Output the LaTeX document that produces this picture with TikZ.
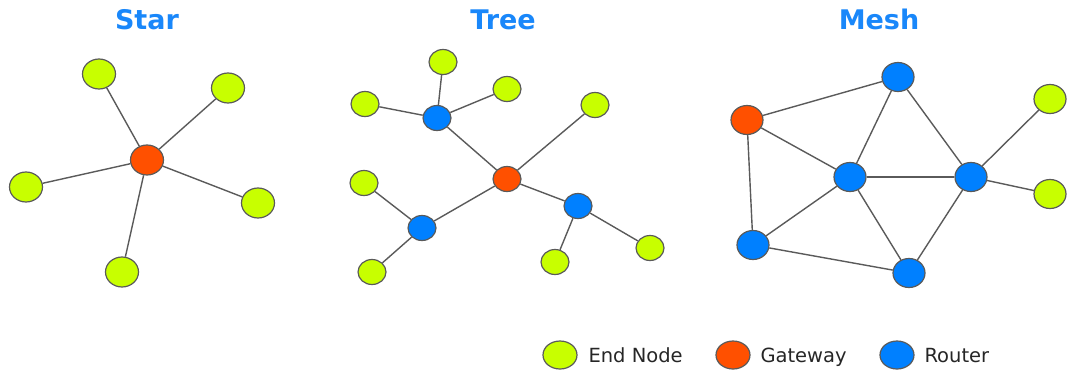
\documentclass[tikz,border=0pt]{standalone}
\usepackage{fontspec}
\setmainfont{DejaVu Sans}
\usetikzlibrary{shapes.geometric}
\definecolor{endc}{RGB}{200,255,0}
\definecolor{gwc}{RGB}{255,80,0}
\definecolor{rtc}{RGB}{0,128,255}
\definecolor{titc}{RGB}{25,135,250}
\definecolor{edgec}{RGB}{90,90,90}
\tikzset{
  dev/.style={ellipse, draw=edgec, line width=1.2pt, inner sep=0pt},
  endn/.style={dev, fill=endc},
  gwn/.style={dev, fill=gwc},
  rtn/.style={dev, fill=rtc},
  bigsz/.style={minimum width=33pt, minimum height=30pt},
  smsz/.style={minimum width=28pt, minimum height=25pt},
  mdsz/.style={minimum width=32pt, minimum height=29pt},
  legsz/.style={minimum width=34pt, minimum height=28pt},
  link/.style={draw=edgec, line width=1.4pt},
  title/.style={font=\bfseries\fontsize{27}{30}\selectfont, text=titc, anchor=base},
  legtxt/.style={font=\fontsize{19.5}{22}\selectfont, text=black!85, anchor=base west}
}
\begin{document}
\begin{tikzpicture}[x=1pt,y=-1pt]
\useasboundingbox (0,0) rectangle (1069,372);
% titles
\node[title] (tstar) at (147,29) {Star};
\node[title] (ttree) at (503,29) {Tree};
\node[title] (tmesh) at (879,29) {Mesh};
% Star
\node[gwn,bigsz] (sg) at (147,160) {};
\node[endn,bigsz] (s1) at (99,74) {};
\node[endn,bigsz] (s2) at (228,88) {};
\node[endn,bigsz] (s3) at (26,187) {};
\node[endn,bigsz] (s4) at (258,203) {};
\node[endn,bigsz] (s5) at (122,272) {};
\foreach \n in {s1,s2,s3,s4,s5} \draw[link] (sg) -- (\n);
% Tree
\node[gwn,smsz] (tg) at (507,179) {};
\node[rtn,smsz] (tr1) at (437,118) {};
\node[rtn,smsz] (tr2) at (422,228) {};
\node[rtn,smsz] (tr3) at (578,206) {};
\node[endn,smsz] (te1) at (443,62) {};
\node[endn,smsz] (te2) at (365,104) {};
\node[endn,smsz] (te3) at (507,89) {};
\node[endn,smsz] (te4) at (595,105) {};
\node[endn,smsz] (te5) at (364,183) {};
\node[endn,smsz] (te6) at (372,272) {};
\node[endn,smsz] (te7) at (555,262) {};
\node[endn,smsz] (te8) at (650,248) {};
\draw[link] (tg) -- (tr1);
\draw[link] (tg) -- (tr2);
\draw[link] (tg) -- (tr3);
\draw[link] (tg) -- (te4);
\draw[link] (tr1) -- (te1);
\draw[link] (tr1) -- (te2);
\draw[link] (tr1) -- (te3);
\draw[link] (tr2) -- (te5);
\draw[link] (tr2) -- (te6);
\draw[link] (tr3) -- (te7);
\draw[link] (tr3) -- (te8);
% Mesh
\node[gwn,mdsz] (mg) at (747,120) {};
\node[rtn,mdsz] (mt) at (898,77) {};
\node[rtn,mdsz] (mc) at (850,177) {};
\node[rtn,mdsz] (mr) at (971,177) {};
\node[rtn,mdsz] (mbl) at (753,245) {};
\node[rtn,mdsz] (mb) at (909,273) {};
\node[endn,mdsz] (me1) at (1050,99) {};
\node[endn,mdsz] (me2) at (1050,194) {};
\draw[link] (mg) -- (mt);
\draw[link] (mg) -- (mc);
\draw[link] (mg) -- (mbl);
\draw[link] (mt) -- (mc);
\draw[link] (mt) -- (mr);
\draw[link] (mc) -- (mr);
\draw[link] (mc) -- (mbl);
\draw[link] (mc) -- (mb);
\draw[link] (mr) -- (mb);
\draw[link] (mbl) -- (mb);
\draw[link] (mr) -- (me1);
\draw[link] (mr) -- (me2);
% Legend
\node[endn,legsz] (l1) at (560,355) {};
\node[legtxt] (l1t) at (585,362) {End Node};
\node[gwn,legsz] (l2) at (733,355) {};
\node[legtxt] (l2t) at (757,362) {Gateway};
\node[rtn,legsz] (l3) at (897,355) {};
\node[legtxt] (l3t) at (921,362) {Router};
\end{tikzpicture}
\end{document}
